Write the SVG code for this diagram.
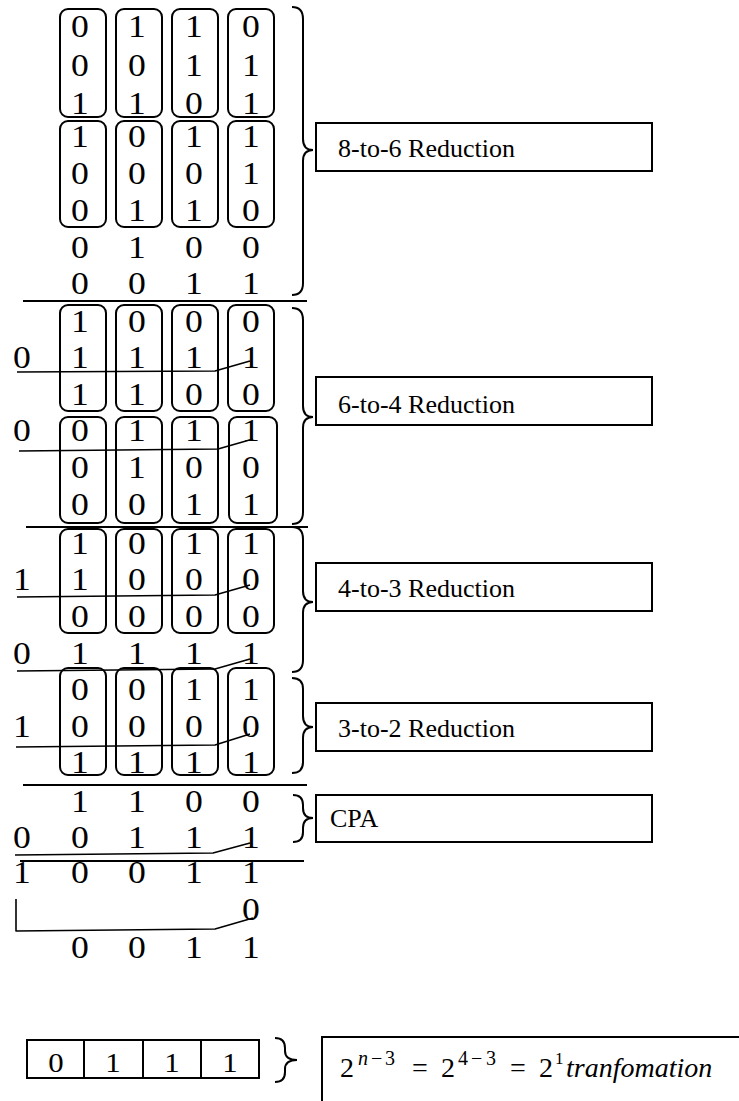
<svg xmlns="http://www.w3.org/2000/svg" width="739" height="1101" viewBox="0 0 739 1101">
<style>
  .bg { fill: #ffffff; }
  .d { font-family: "Liberation Serif", "Times New Roman", serif; font-size: 31px; fill: #000; text-anchor: middle; }
  .lbl { font-family: "Liberation Serif", "Times New Roman", serif; font-size: 26px; fill: #000; }
  .grp { fill: none; stroke: #000; stroke-width: 2; }
  .rule { stroke: #000; stroke-width: 2; fill: none; }
  .carry { stroke: #000; stroke-width: 1.6; fill: none; stroke-linejoin: round; }
  .brace { stroke: #000; stroke-width: 2; fill: none; }
  .box { fill: #fff; stroke: #000; stroke-width: 2; }
  .m { font-family: "Liberation Serif", "Times New Roman", serif; fill: #000; }
</style>
<rect class="bg" x="0" y="0" width="739" height="1101"/>

<!-- Section 1: 8-to-6 -->
<g id="sec1">
  <rect class="grp" x="60" y="9" width="46" height="108" rx="8"/>
  <rect class="grp" x="116" y="9" width="46" height="108" rx="8"/>
  <rect class="grp" x="172" y="9" width="46" height="108" rx="8"/>
  <rect class="grp" x="228" y="9" width="46" height="108" rx="8"/>
  <rect class="grp" x="60" y="121" width="46" height="106" rx="8"/>
  <rect class="grp" x="116" y="121" width="46" height="106" rx="8"/>
  <rect class="grp" x="172" y="121" width="46" height="106" rx="8"/>
  <rect class="grp" x="228" y="121" width="46" height="106" rx="8"/>
  <g transform="scale(1.15 1)">
    <text class="d" x="69.57" y="37.5">0</text><text class="d" x="119.13" y="37.5">1</text><text class="d" x="168.7" y="37.5">1</text><text class="d" x="218.26" y="37.5">0</text>
    <text class="d" x="69.57" y="76">0</text><text class="d" x="119.13" y="76">0</text><text class="d" x="168.7" y="76">1</text><text class="d" x="218.26" y="76">1</text>
    <text class="d" x="69.57" y="114.5">1</text><text class="d" x="119.13" y="114.5">1</text><text class="d" x="168.7" y="114.5">0</text><text class="d" x="218.26" y="114.5">1</text>
    <text class="d" x="69.57" y="147.5">1</text><text class="d" x="119.13" y="147.5">0</text><text class="d" x="168.7" y="147.5">1</text><text class="d" x="218.26" y="147.5">1</text>
    <text class="d" x="69.57" y="184.5">0</text><text class="d" x="119.13" y="184.5">0</text><text class="d" x="168.7" y="184.5">0</text><text class="d" x="218.26" y="184.5">1</text>
    <text class="d" x="69.57" y="221.5">0</text><text class="d" x="119.13" y="221.5">1</text><text class="d" x="168.7" y="221.5">1</text><text class="d" x="218.26" y="221.5">0</text>
    <text class="d" x="69.57" y="258.5">0</text><text class="d" x="119.13" y="258.5">1</text><text class="d" x="168.7" y="258.5">0</text><text class="d" x="218.26" y="258.5">0</text>
    <text class="d" x="69.57" y="294.5">0</text><text class="d" x="119.13" y="294.5">0</text><text class="d" x="168.7" y="294.5">1</text><text class="d" x="218.26" y="294.5">1</text>
  </g>
</g>

<!-- Section 2: 6-to-4 -->
<g id="sec2">
  <rect class="grp" x="60" y="305" width="46" height="106" rx="8"/>
  <rect class="grp" x="116" y="305" width="46" height="106" rx="8"/>
  <rect class="grp" x="172" y="305" width="46" height="106" rx="8"/>
  <rect class="grp" x="228" y="305" width="46" height="106" rx="8"/>
  <rect class="grp" x="60" y="417" width="46" height="106" rx="8"/>
  <rect class="grp" x="116" y="417" width="46" height="106" rx="8"/>
  <rect class="grp" x="172" y="417" width="46" height="106" rx="8"/>
  <rect class="grp" x="229" y="417" width="48" height="106" rx="8"/>
  <g transform="scale(1.15 1)">
    <text class="d" x="69.57" y="332">1</text><text class="d" x="119.13" y="332">0</text><text class="d" x="168.7" y="332">0</text><text class="d" x="218.26" y="332">0</text>
    <text class="d" x="19.13" y="368">0</text><text class="d" x="69.57" y="368">1</text><text class="d" x="119.13" y="368">1</text><text class="d" x="168.7" y="368">1</text><text class="d" x="218.26" y="368">1</text>
    <text class="d" x="69.57" y="405">1</text><text class="d" x="119.13" y="405">1</text><text class="d" x="168.7" y="405">0</text><text class="d" x="218.26" y="405">0</text>
    <text class="d" x="19.13" y="441">0</text><text class="d" x="69.57" y="441">0</text><text class="d" x="119.13" y="441">1</text><text class="d" x="168.7" y="441">1</text><text class="d" x="218.26" y="441">1</text>
    <text class="d" x="69.57" y="478">0</text><text class="d" x="119.13" y="478">1</text><text class="d" x="168.7" y="478">0</text><text class="d" x="218.26" y="478">0</text>
    <text class="d" x="69.57" y="515">0</text><text class="d" x="119.13" y="515">0</text><text class="d" x="168.7" y="515">1</text><text class="d" x="218.26" y="515">1</text>
  </g>
</g>

<!-- Section 3: 4-to-3 -->
<g id="sec3">
  <rect class="grp" x="60" y="529" width="46" height="104" rx="8"/>
  <rect class="grp" x="116" y="529" width="46" height="104" rx="8"/>
  <rect class="grp" x="172" y="529" width="46" height="104" rx="8"/>
  <rect class="grp" x="228" y="529" width="46" height="104" rx="8"/>
  <g transform="scale(1.15 1)">
    <text class="d" x="69.57" y="554">1</text><text class="d" x="119.13" y="554">0</text><text class="d" x="168.7" y="554">1</text><text class="d" x="218.26" y="554">1</text>
    <text class="d" x="19.13" y="590">1</text><text class="d" x="69.57" y="590">1</text><text class="d" x="119.13" y="590">0</text><text class="d" x="168.7" y="590">0</text><text class="d" x="218.26" y="590">0</text>
    <text class="d" x="69.57" y="627">0</text><text class="d" x="119.13" y="627">0</text><text class="d" x="168.7" y="627">0</text><text class="d" x="218.26" y="627">0</text>
    <text class="d" x="19.13" y="664">0</text><text class="d" x="69.57" y="664">1</text><text class="d" x="119.13" y="664">1</text><text class="d" x="168.7" y="664">1</text><text class="d" x="218.26" y="664">1</text>
  </g>
</g>

<!-- Section 4: 3-to-2 -->
<g id="sec4">
  <rect class="grp" x="60" y="668" width="46" height="107" rx="8"/>
  <rect class="grp" x="116" y="668" width="46" height="107" rx="8"/>
  <rect class="grp" x="172" y="668" width="46" height="107" rx="8"/>
  <rect class="grp" x="228" y="668" width="46" height="107" rx="8"/>
  <g transform="scale(1.15 1)">
    <text class="d" x="69.57" y="700">0</text><text class="d" x="119.13" y="700">0</text><text class="d" x="168.7" y="700">1</text><text class="d" x="218.26" y="700">1</text>
    <text class="d" x="19.13" y="737">1</text><text class="d" x="69.57" y="737">0</text><text class="d" x="119.13" y="737">0</text><text class="d" x="168.7" y="737">0</text><text class="d" x="218.26" y="737">0</text>
    <text class="d" x="69.57" y="773">1</text><text class="d" x="119.13" y="773">1</text><text class="d" x="168.7" y="773">1</text><text class="d" x="218.26" y="773">1</text>
  </g>
</g>

<!-- Section 5: CPA -->
<g id="sec5">
  <g transform="scale(1.15 1)">
    <text class="d" x="69.57" y="812">1</text><text class="d" x="119.13" y="812">1</text><text class="d" x="168.7" y="812">0</text><text class="d" x="218.26" y="812">0</text>
    <text class="d" x="19.13" y="848">0</text><text class="d" x="69.57" y="848">0</text><text class="d" x="119.13" y="848">1</text><text class="d" x="168.7" y="848">1</text><text class="d" x="218.26" y="848">1</text>
    <text class="d" x="19.13" y="883">1</text><text class="d" x="69.57" y="883">0</text><text class="d" x="119.13" y="883">0</text><text class="d" x="168.7" y="883">1</text><text class="d" x="218.26" y="883">1</text>
    <text class="d" x="218.26" y="920">0</text>
    <text class="d" x="69.57" y="958">0</text><text class="d" x="119.13" y="958">0</text><text class="d" x="168.7" y="958">1</text><text class="d" x="218.26" y="958">1</text>
  </g>
</g>

<!-- Rules, carry connectors and braces -->
<g id="connectors">
  <line class="rule" x1="23" y1="301" x2="307" y2="301"/>
  <line class="rule" x1="26" y1="527" x2="308" y2="527"/>
  <line class="rule" x1="23" y1="785" x2="307" y2="785"/>
  <line class="rule" x1="20" y1="861" x2="304" y2="861"/>

  <polyline class="carry" points="17,372 215,371 250,361"/>
  <polyline class="carry" points="19,451 218,449 253,439"/>
  <polyline class="carry" points="17,597 215,595 250,585"/>
  <polyline class="carry" points="17,671 215,669 250,659"/>
  <polyline class="carry" points="16,747 215,745 250,734"/>
  <polyline class="carry" points="15,855 213,853 250,843"/>
  <polyline class="carry" points="16,899 16,931 215,929 253,918"/>

  <path class="brace" d="M292,7 Q303,7 303,19 V139 Q303,150 313,150 Q303,150 303,161 V283 Q303,295 292,295"/>
  <path class="brace" d="M292,308 Q303,308 303,320 V406 Q303,417 313,417 Q303,417 303,428 V512 Q303,524 292,524"/>
  <path class="brace" d="M292,527 Q303,527 303,539 V591 Q303,602 313,602 Q303,602 303,613 V660 Q303,672 292,672"/>
  <path class="brace" d="M292,678 Q303,678 303,689 V716 Q303,727 313,727 Q303,727 303,738 V762 Q303,773 292,773"/>
  <path class="brace" d="M293,795 Q303,795 303,805 V808 Q303,818 313,818 Q303,818 303,828 V832 Q303,842 293,842"/>
  <path class="brace" d="M275,1038 Q285,1038 285,1048 V1051 Q285,1060 297,1060 Q285,1060 285,1069 V1072 Q285,1082 275,1082"/>
</g>

<!-- Label boxes -->
<g id="lbl-8to6">
  <rect class="box" x="316" y="123" width="336" height="48"/>
  <text class="lbl" x="338" y="157">8-to-6 Reduction</text>
</g>
<g id="lbl-6to4">
  <rect class="box" x="316" y="377" width="336" height="48"/>
  <text class="lbl" x="338" y="413">6-to-4 Reduction</text>
</g>
<g id="lbl-4to3">
  <rect class="box" x="316" y="563" width="336" height="48"/>
  <text class="lbl" x="338" y="597">4-to-3 Reduction</text>
</g>
<g id="lbl-3to2">
  <rect class="box" x="316" y="703" width="336" height="48"/>
  <text class="lbl" x="338" y="737">3-to-2 Reduction</text>
</g>
<g id="lbl-cpa">
  <rect class="box" x="316" y="795" width="336" height="47"/>
  <text class="lbl" x="330" y="827">CPA</text>
</g>

<!-- Result register -->
<g id="result">
  <rect class="box" x="27" y="1040" width="232" height="38"/>
  <line class="rule" x1="84" y1="1040" x2="84" y2="1078"/>
  <line class="rule" x1="143" y1="1040" x2="143" y2="1078"/>
  <line class="rule" x1="201" y1="1040" x2="201" y2="1078"/>
  <g transform="scale(1.1 1)">
    <text class="d" style="font-size:28px" x="50.9" y="1072">0</text>
    <text class="d" style="font-size:28px" x="102.7" y="1072">1</text>
    <text class="d" style="font-size:28px" x="156.4" y="1072">1</text>
    <text class="d" style="font-size:28px" x="209.1" y="1072">1</text>
  </g>
</g>

<!-- Formula -->
<g id="formula">
  <path class="rule" d="M322,1101 V1037 H739"/>
  <text class="m" font-size="28" x="340" y="1077">2</text>
  <text class="m" font-size="20" y="1065"><tspan x="358" font-style="italic">n</tspan><tspan x="371">−</tspan><tspan x="385">3</tspan></text>
  <text class="m" font-size="28" x="412" y="1077">=</text>
  <text class="m" font-size="28" x="441" y="1077">2</text>
  <text class="m" font-size="20" y="1065"><tspan x="458">4</tspan><tspan x="471">−</tspan><tspan x="486">3</tspan></text>
  <text class="m" font-size="28" x="510" y="1077">=</text>
  <text class="m" font-size="28" x="539" y="1077">2</text>
  <text class="m" font-size="17" x="555" y="1064">1</text>
  <text class="m" font-size="28" font-style="italic" x="566" y="1077">tranfomation</text>
</g>
</svg>
